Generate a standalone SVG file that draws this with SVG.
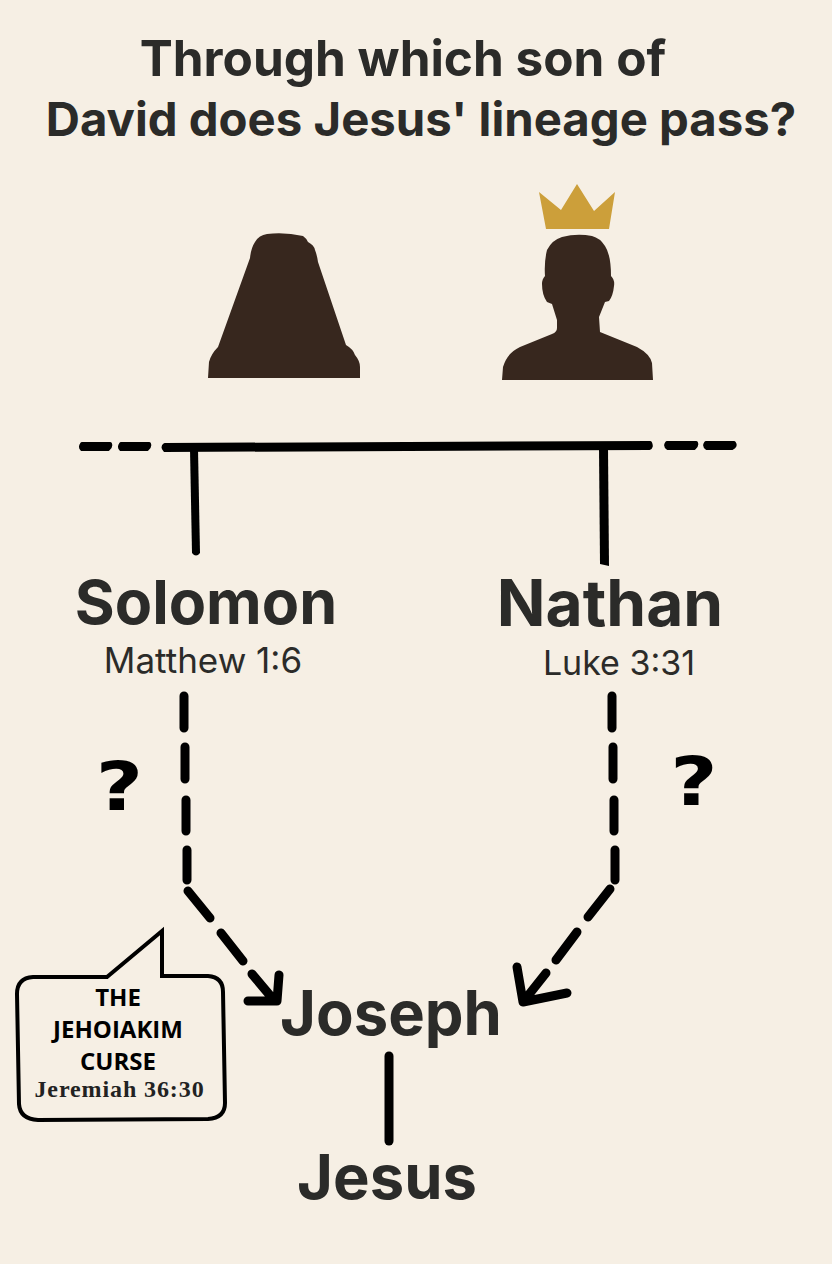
<svg xmlns="http://www.w3.org/2000/svg" width="832" height="1264" viewBox="0 0 832 1264">
<style>
.t{font-family:"Inter","Liberation Sans",sans-serif;fill:#2b2b29;text-anchor:middle}
.b{font-weight:700}
.c{font-family:"Open Sans","Liberation Sans",sans-serif;font-weight:700;font-size:24px;text-anchor:middle;fill:#000}
.q{font-family:"DejaVu Sans",sans-serif;font-weight:700;font-size:68px;text-anchor:middle;fill:#000}
.l{fill:none;stroke:#000;stroke-linecap:round;stroke-linejoin:round;stroke-width:9}
.bar{fill:#000;stroke:#000;stroke-width:4;stroke-linejoin:round}
.sil{fill:#37271e}
</style>
<rect width="832" height="1264" fill="#f6efe4"/>
<g id="title">
<text class="t b" x="403" y="76" font-size="49.5">Through which son of</text>
<text class="t b" x="421" y="136" font-size="47.3">David does Jesus' lineage pass?</text>
</g>
<g id="mother"><path class="sil" d="M208 378 L209 362 Q211 354 218 347 L250 258 Q251 248 255 242 Q259 235 267 234 Q285 232 303 236 Q306 238 308 242 Q314 245 315 250 Q317 255 318 262 L346 345 Q353 349 355 355 Q360 361 360 367 L360 378 Z"/></g>
<g id="david">
<path d="M539 192 L561 210 L577 184 L594 211 L615 192 L609 229 L546 229 Z" fill="#cc9f3a"/>
<path class="sil" d="M502 380 L503 367 Q507 353 520 347 L552 334 Q557 332 557 328 L557 320 L552 304 L547 302 Q542 295 542 284 Q542 279 545 276 Q544 262 547 250 Q552 240 562 237 Q577 233 592 236 Q600 238 605 246 Q611 255 611 276 Q615 280 614 286 Q613 296 609 301 L605 302 L599 317 L600 332 L637 347 Q650 354 652 363 L653 380 Z"/>
</g>
<g id="connectors">
<path class="bar" d="M82 444H110Q111 447 108 449H82Q80 447 82 444ZM121 444H149Q150 447 147 449H121Q119 447 121 444ZM165 445L650 443Q652 447 649 448L165 450Q162 447 165 445ZM667 443H696Q697 446 694 448H668Q665 446 667 443ZM706 443H734Q736 446 732 448H707Q704 446 706 443Z"/>
<path d="M190 449H198L200 553Q196 558 192 553Z" fill="#000"/>
<path d="M599 448H608L609 566L600 564Z" fill="#000"/>
<path class="l" d="M184 696V728M185 747V779M186 800V831M187 850L187 880"/>
<path class="l" d="M188 891L210 918M221 933L243 961M252 974L273 999M248 1001L277 1001L279 975"/>
<path class="l" d="M612 696V728M613 747V779M614 800V831M615 850V880"/>
<path class="l" d="M610 889L588 917M577 932L556 960M546 973L523 1002M517 967L523 1002L567 993"/>
<path class="l" d="M389 1056V1141"/>
</g>
<g id="solomon">
<text class="t b" x="206" y="624" font-size="61">Solomon</text>
<text class="t" x="203" y="673" font-size="35">Matthew 1:6</text>
</g>
<g id="nathan">
<text class="t b" x="610" y="626" font-size="64">Nathan</text>
<text class="t" x="619" y="675" font-size="34">Luke 3:31</text>
</g>
<g id="q1"><text class="q" transform="translate(119.500 810) scale(1.2 1)">?</text></g>
<g id="q2"><text class="q" transform="translate(694 805) scale(1.2 1)">?</text></g>
<g id="joseph"><text class="t b" x="391" y="1035" font-size="61.5">Joseph</text></g>
<g id="jesus"><text class="t b" x="387" y="1199" font-size="61.5">Jesus</text></g>
<g id="callout">
<path d="M107 977 L162 931 L162 976 L208 976 Q223 977 223 992 L225 1103 Q225 1118 208 1119 L38 1120 Q20 1119 19 1104 L17 994 Q17 978 33 977 Z" fill="#f6efe4" stroke="#000" stroke-width="4" stroke-linejoin="miter"/>
<text class="c" x="118" y="1006">THE</text>
<text class="c" x="118" y="1038">JEHOIAKIM</text>
<text class="c" x="118" y="1070">CURSE</text>
<text x="119.500" y="1097" font-size="24" font-weight="700" letter-spacing="0.9" text-anchor="middle" fill="#222" font-family="Liberation Serif,serif">Jeremiah 36:30</text>
</g>
</svg>
